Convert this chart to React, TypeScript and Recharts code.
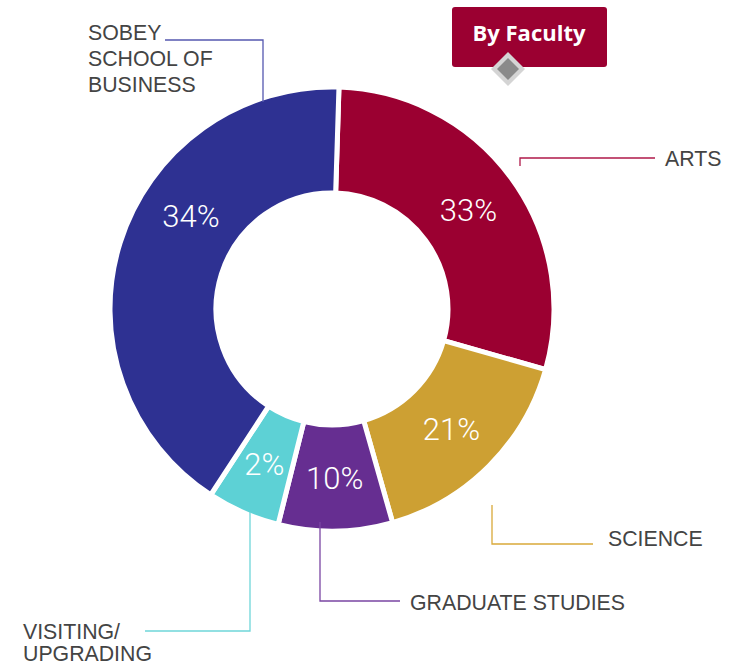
import React from 'react';
import { PieChart, Pie, Cell } from 'recharts';

// faculties in clockwise order starting just right of 12 o'clock
const faculties = ['ARTS', 'SCIENCE', 'GRADUATE STUDIES', 'VISITING/ UPGRADING', 'SOBEY SCHOOL OF BUSINESS'];
// slice shares as drawn in the picture (degrees of arc / 3.6)
const shares = [28.9, 16.2, 8.3, 5.3, 41.3];
// percentages printed on the slices
const printed = ['33%', '21%', '10%', '2%', '34%'];
const colors = ['#9B0031', '#CDA033', '#662E91', '#5DD1D5', '#2E3192'];
const lineColors = ['#B0194A', '#D9A93A', '#7A45A3', '#6FD6D9', '#5558B0'];

const data = faculties.map((name, i) => ({ name, value: shares[i] }));

const W = 739;
const H = 665;
const CX = 332;
const CY = 309;
const INNER = 116;
const OUTER = 222;
const START = 88.2;
const RAD = Math.PI / 180;

const labelFont = '"Liberation Sans", Arial, Helvetica, sans-serif';

// small angle nudge for the one label that is not on the slice middle
const labelShift = [0, 0, 0, 0, -16];

const renderPct = (props: any) => {
  const { cx, cy, midAngle, innerRadius, outerRadius, index } = props;
  const r = (innerRadius + outerRadius) / 2;
  const a = (midAngle + labelShift[index]) * RAD;
  const x = cx + r * Math.cos(-a);
  const y = cy + r * Math.sin(-a);
  return (
    <text
      x={x}
      y={y + 1}
      fill="#fff"
      textAnchor="middle"
      dominantBaseline="central"
      fontFamily='Roboto, "Liberation Sans", sans-serif'
      fontWeight={300}
      fontSize={31}
    >
      {printed[index]}
    </text>
  );
};

const Annotations = () => (
  <svg width={W} height={H} style={{ position: 'absolute', left: 0, top: 0, pointerEvents: 'none' }}>
    {/* title badge */}
    <rect x={452} y={7} width={155} height={60} rx={3} fill="#9B0031" />
    <text x={529} y={41} textAnchor="middle" fill="#fff" fontFamily='"Open Sans", Lato, sans-serif' fontWeight={700} fontSize={22}>
      By Faculty
    </text>
    <polygon points="508,52 525,69 508,86 491,69" fill="#D4D4D4" />
    <polygon points="508,58 519,69 508,80 497,69" fill="#8A8A8A" />

    {/* leader lines */}
    <polyline points="165,40 263,40 263,102" fill="none" stroke={lineColors[4]} strokeWidth={1.3} />
    <polyline points="655,158 520,158 520,166" fill="none" stroke={lineColors[0]} strokeWidth={1.3} />
    <polyline points="492,505 492,544 593,544" fill="none" stroke={lineColors[1]} strokeWidth={1.3} />
    <polyline points="320,522 320,601 400,601" fill="none" stroke={lineColors[2]} strokeWidth={1.3} />
    <polyline points="250,512 250,631 145,631" fill="none" stroke={lineColors[3]} strokeWidth={1.3} />

    <g fill="#444" fontFamily={labelFont} fontSize={21.3}>
      <text x={88} y={40}>SOBEY</text>
      <text x={88} y={66}>SCHOOL OF</text>
      <text x={88} y={92}>BUSINESS</text>
      <text x={665} y={166}>ARTS</text>
      <text x={608} y={546}>SCIENCE</text>
      <text x={410} y={610}>GRADUATE STUDIES</text>
      <text x={23} y={639}>VISITING/</text>
      <text x={23} y={661}>UPGRADING</text>
    </g>
  </svg>
);

export default function App() {
  return (
    <div style={{ position: 'absolute', left: 0, top: 0, width: W, height: H, background: '#fff' }}>
      <PieChart width={W} height={H} margin={{ top: 0, right: 0, bottom: 0, left: 0 }}>
        <Pie
          data={data}
          dataKey="value"
          cx={CX}
          cy={CY}
          innerRadius={INNER}
          outerRadius={OUTER}
          startAngle={START}
          endAngle={START - 360}
          stroke="#fff"
          strokeWidth={5}
          labelLine={false}
          label={renderPct}
          isAnimationActive={false}
        >
          {data.map((d, i) => (
            <Cell key={d.name} fill={colors[i]} />
          ))}
        </Pie>
      </PieChart>
      <Annotations />
    </div>
  );
}
